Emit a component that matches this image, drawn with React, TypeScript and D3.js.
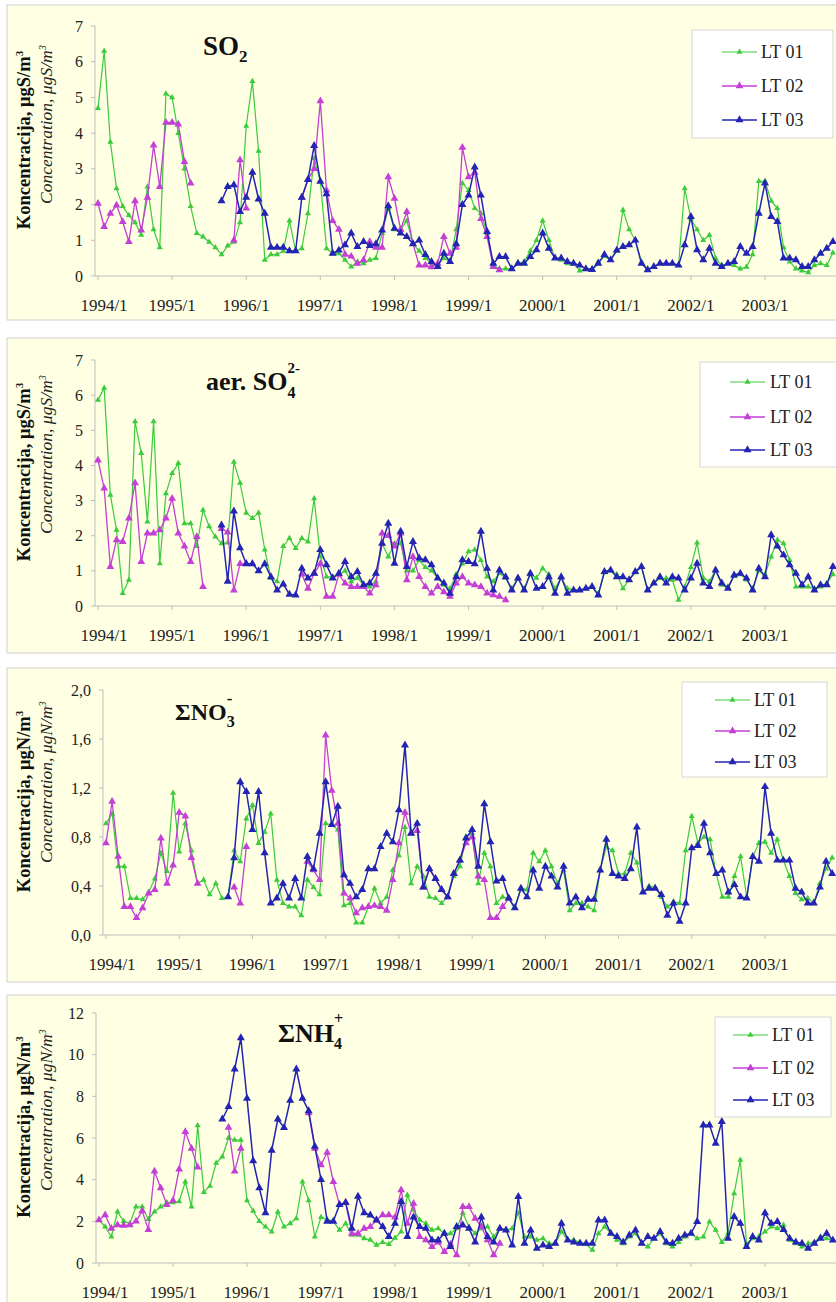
import React from "react";
import * as d3 from "d3";

type V = number | null;
const _ = null;

const YEAR_LABELS = ["1994/1", "1995/1", "1996/1", "1997/1", "1998/1", "1999/1", "2000/1", "2001/1", "2002/1", "2003/1"];
const SERIES_NAMES = ["LT 01", "LT 02", "LT 03"];

// ---------- SO2 ----------
const so2_LT01: V[] = [
  4.7, 6.3, 3.75, 2.45, 1.95, 1.7, 1.5, 1.15, 2.5, 1.3, 0.8, 5.1,
  5.0, 4.0, 3.0, 1.95, 1.2, 1.1, 0.95, 0.8, 0.6, 0.85, 0.95, 1.5,
  4.2, 5.45, 3.5, 0.45, 0.6, 0.6, 0.7, 1.55, 0.7, 0.77, 1.75, 3.3,
  2.65, 0.77, 0.63, 0.63, 0.45, 0.26, 0.4, 0.35, 0.45, 0.5, 1.2, 1.9,
  1.3, 1.3, 1.55, 0.9, 0.7, 0.5, 0.35, 0.3, 0.5, 0.4, 1.3, 2.6,
  2.4, 1.9, 1.75, 1.2, 0.3, 0.2, 0.2, 0.2, 0.35, 0.4, 0.7, 1.0,
  1.55, 1.0, 0.5, 0.45, 0.35, 0.35, 0.15, 0.2, 0.2, 0.4, 0.55, 0.45,
  0.7, 1.85, 1.3, 1.0, 0.4, 0.2, 0.25, 0.35, 0.35, 0.35, 0.3, 2.45,
  1.6, 1.3, 1.0, 1.15, 0.5, 0.3, 0.35, 0.3, 0.2, 0.25, 0.6, 2.65,
  2.65, 2.1, 1.9, 0.8, 0.4, 0.2, 0.15, 0.1, 0.3, 0.35, 0.3, 0.65,
];
const so2_LT02: V[] = [
  2.03, 1.38, 1.75, 1.98, 1.52, 0.96, 2.1, 1.28, 2.2, 3.66, 2.5, 4.3,
  4.3, 4.25, 3.2, 2.6, _, _, _, _, _, _, 1.0, 3.25,
  1.9, _, _, _, _, _, _, _, _, 2.2, 2.7, 3.0,
  4.9, 2.4, 1.55, 1.3, 0.6, 0.55, 0.35, 0.45, 0.96, 0.8, 0.8, 2.77,
  2.17, 1.3, 1.8, 0.9, 0.3, 0.3, 0.25, 0.35, 1.1, 0.63, 0.8, 3.6,
  2.77, 2.9, 1.6, 1.1, 0.26, 0.17, _, _, _, _, _, _,
  _, _, _, _, _, _, _, _, _, _, _, _,
  _, _, _, _, _, _, _, _, _, _, _, _,
  _, _, _, _, _, _, _, _, _, _, _, _,
  _, _, _, _, _, _, _, _, _, _, _, _,
];
const so2_LT03: V[] = [
  _, _, _, _, _, _, _, _, _, _, _, _,
  _, _, _, _, _, _, _, _, 2.1, 2.5, 2.55, 1.8,
  2.2, 2.9, 2.15, 1.75, 0.8, 0.8, 0.8, 0.7, 0.7, 2.2, 2.7, 3.65,
  2.65, 2.3, 0.63, 0.72, 0.87, 1.2, 0.82, 0.96, 0.85, 0.9, 1.28, 1.96,
  1.33, 1.2, 1.1, 0.9, 1.0, 0.6, 0.4, 0.26, 0.63, 0.4, 0.9, 2.0,
  2.26, 3.05, 2.26, 1.24, 0.35, 0.54, 0.54, 0.2, 0.35, 0.35, 0.54, 0.73,
  1.2, 0.77, 0.5, 0.5, 0.4, 0.35, 0.3, 0.2, 0.18, 0.35, 0.6, 0.45,
  0.72, 0.82, 0.87, 1.0, 0.35, 0.17, 0.26, 0.35, 0.35, 0.35, 0.3, 0.87,
  1.66, 0.73, 0.45, 0.77, 0.35, 0.26, 0.35, 0.4, 0.82, 0.63, 0.82, 1.75,
  2.6, 1.66, 1.52, 0.5, 0.5, 0.45, 0.26, 0.26, 0.45, 0.63, 0.77, 0.96,
];

// ---------- aer. SO4 ----------
const so4_LT01: V[] = [
  5.86, 6.2, 3.16, 2.16, 0.36, 0.74, 5.25, 4.35, 2.4, 5.25, 1.21, 3.2,
  3.78, 4.06, 2.35, 2.35, 1.7, 2.73, 2.26, 1.97, 1.78, 1.8, 4.1, 3.5,
  2.65, 2.5, 2.65, 1.6, 0.8, 0.7, 1.7, 1.93, 1.64, 1.93, 1.83, 3.06,
  1.4, 0.83, 0.83, 0.9, 1.0, 0.7, 0.8, 0.6, 0.55, 0.7, 1.78, 1.4,
  1.78, 1.78, 1.0, 1.0, 1.3, 1.1, 1.0, 0.8, 0.6, 0.5, 0.9, 1.2,
  1.55, 1.6, 1.3, 0.83, 0.7, 0.93, 0.8, 0.5, 0.8, 0.5, 0.9, 0.8,
  1.07, 0.9, 0.5, 0.8, 0.5, 0.45, 0.45, 0.5, 0.55, 0.35, 0.95, 1.0,
  0.9, 0.5, 0.75, 0.95, 1.1, 0.45, 0.65, 0.79, 0.79, 0.74, 0.17, 0.55,
  1.1, 1.8, 0.8, 0.7, 1.02, 0.6, 0.55, 0.85, 0.9, 0.75, 0.5, 1.0,
  0.9, 1.4, 1.88, 1.78, 1.3, 0.55, 0.55, 0.55, 0.5, 0.55, 0.65, 0.9,
];
const so4_LT02: V[] = [
  4.15, 3.35, 1.12, 1.88, 1.83, 2.5, 3.5, 1.26, 2.07, 2.07, 2.16, 2.5,
  3.06, 2.07, 1.7, 1.26, 1.97, 0.55, _, _, 2.2, 2.1, 0.45, 1.2,
  1.2, 1.2, _, _, _, _, _, _, _, 0.9, 0.5, 0.93,
  1.2, 0.27, 0.27, 0.9, 0.65, 0.55, 0.55, 0.55, 0.36, 0.6, 2.07, 2.0,
  1.7, 2.07, 0.74, 1.4, 0.83, 0.55, 0.36, 0.55, 0.4, 0.27, 0.65, 0.83,
  0.65, 0.6, 0.55, 0.36, 0.31, 0.27, 0.17, _, _, _, _, _,
  _, _, _, _, _, _, _, _, _, _, _, _,
  _, _, _, _, _, _, _, _, _, _, _, _,
  _, _, _, _, _, _, _, _, _, _, _, _,
  _, _, _, _, _, _, _, _, _, _, _, _,
];
const so4_LT03: V[] = [
  _, _, _, _, _, _, _, _, _, _, _, _,
  _, _, _, _, _, _, _, _, 2.3, 0.7, 2.7, 1.65,
  1.2, 1.2, 1.0, 1.2, 0.83, 0.45, 0.62, 0.33, 0.31, 1.07, 0.79, 0.93,
  1.6, 1.17, 0.79, 0.93, 1.26, 0.83, 0.98, 0.6, 0.65, 0.93, 1.78, 2.35,
  1.21, 2.12, 1.12, 1.83, 1.36, 1.31, 1.17, 0.79, 0.65, 0.36, 0.83, 1.31,
  1.26, 1.2, 2.12, 1.07, 0.45, 1.02, 0.83, 0.45, 0.79, 0.45, 0.93, 0.5,
  0.55, 0.83, 0.36, 0.83, 0.36, 0.45, 0.45, 0.5, 0.55, 0.31, 0.98, 1.02,
  0.83, 0.83, 0.74, 0.98, 1.12, 0.45, 0.65, 0.83, 0.65, 0.83, 0.79, 0.45,
  0.79, 1.21, 0.65, 0.55, 1.02, 0.65, 0.5, 0.88, 0.93, 0.79, 0.45, 1.07,
  0.83, 2.02, 1.7, 1.45, 1.17, 0.93, 0.6, 0.83, 0.45, 0.6, 0.6, 1.12,
];

// ---------- Sum NO3 ----------
const no3_LT01: V[] = [
  0.91, 0.99, 0.56, 0.56, 0.3, 0.3, 0.29, 0.35, 0.46, 0.67, 0.52, 1.16,
  0.68, 0.91, 0.69, 0.42, 0.45, 0.33, 0.42, 0.3, 0.31, 0.69, 0.6, 0.95,
  1.06, 0.75, 0.84, 0.99, 0.45, 0.26, 0.23, 0.23, 0.16, 0.45, 0.39, 0.33,
  0.91, 0.9, 0.86, 0.24, 0.26, 0.1, 0.1, 0.23, 0.38, 0.26, 0.31, 0.53,
  0.65, 0.88, 0.42, 0.56, 0.48, 0.31, 0.3, 0.26, 0.31, 0.48, 0.56, 0.8,
  0.83, 0.42, 0.67, 0.56, 0.26, 0.31, 0.3, 0.23, 0.38, 0.37, 0.67, 0.6,
  0.69, 0.56, 0.42, 0.53, 0.2, 0.26, 0.26, 0.23, 0.2, 0.53, 0.72, 0.69,
  0.5, 0.5, 0.67, 0.59, 0.35, 0.4, 0.39, 0.31, 0.23, 0.27, 0.26, 0.69,
  0.97, 0.75, 0.8, 0.78, 0.5, 0.31, 0.31, 0.48, 0.64, 0.31, 0.64, 0.75,
  0.76, 0.67, 0.78, 0.61, 0.48, 0.34, 0.29, 0.3, 0.26, 0.42, 0.54, 0.63,
];
const no3_LT02: V[] = [
  0.75, 1.09, 0.64, 0.23, 0.23, 0.14, 0.22, 0.34, 0.37, 0.79, 0.42, 0.57,
  1.0, 0.97, 0.63, 0.42, _, _, _, _, _, 0.39, 0.26, 0.72,
  _, _, _, _, _, _, _, _, _, 0.6, 0.53, 0.45,
  1.63, 1.18, 0.91, 0.34, 0.3, 0.18, 0.22, 0.23, 0.24, 0.23, 0.2, 0.45,
  0.75, 1.0, 0.83, 0.85, 0.39, 0.54, 0.46, 0.37, 0.31, 0.5, 0.61, 0.75,
  0.8, 0.48, 0.45, 0.14, 0.14, 0.23, 0.3, _, _, _, _, _,
  _, _, _, _, _, _, _, _, _, _, _, _,
  _, _, _, _, _, _, _, _, _, _, _, _,
  _, _, _, _, _, _, _, _, _, _, _, _,
  _, _, _, _, _, _, _, _, _, _, _, _,
];
const no3_LT03: V[] = [
  _, _, _, _, _, _, _, _, _, _, _, _,
  _, _, _, _, _, _, _, _, 0.31, 0.63, 1.25, 1.17,
  0.86, 1.17, 0.67, 0.26, 0.3, 0.42, 0.3, 0.46, 0.3, 0.64, 0.54, 0.83,
  1.25, 0.9, 1.05, 0.49, 0.42, 0.31, 0.37, 0.54, 0.54, 0.72, 0.83, 0.76,
  1.02, 1.55, 0.83, 0.91, 0.39, 0.54, 0.46, 0.37, 0.31, 0.5, 0.61, 0.79,
  0.86, 0.56, 1.07, 0.76, 0.44, 0.46, 0.3, 0.22, 0.38, 0.31, 0.53, 0.38,
  0.56, 0.48, 0.39, 0.56, 0.26, 0.31, 0.22, 0.29, 0.29, 0.53, 0.78, 0.5,
  0.48, 0.46, 0.54, 0.88, 0.35, 0.38, 0.38, 0.33, 0.16, 0.26, 0.11, 0.26,
  0.71, 0.73, 0.91, 0.67, 0.5, 0.53, 0.35, 0.41, 0.31, 0.3, 0.64, 0.6,
  1.21, 0.83, 0.61, 0.61, 0.61, 0.38, 0.35, 0.26, 0.26, 0.39, 0.6, 0.5,
];

// ---------- Sum NH4 ----------
const nh4_LT01: V[] = [
  2.06, 1.74, 1.26, 2.46, 2.0, 1.9, 2.7, 2.7, 2.1, 2.46, 2.7, 2.9,
  2.9, 2.95, 3.9, 2.7, 6.6, 3.4, 3.7, 4.8, 5.1, 6.0, 5.9, 5.9,
  3.0, 2.5, 2.0, 1.74, 1.5, 2.45, 1.74, 1.9, 2.14, 3.9, 3.0, 1.26,
  2.2, 2.1, 2.0, 1.58, 1.9, 1.34, 1.34, 1.18, 1.1, 0.86, 1.0, 0.9,
  1.2, 1.5, 3.26, 2.54, 2.06, 1.9, 1.58, 1.66, 1.42, 1.42, 1.66, 2.4,
  1.74, 1.42, 1.66, 1.74, 1.26, 1.66, 1.58, 1.66, 2.4, 1.26, 1.26, 1.1,
  1.18, 0.94, 0.94, 1.5, 1.1, 1.1, 1.0, 0.9, 0.62, 1.42, 1.74, 1.42,
  1.1, 0.94, 1.26, 1.42, 0.94, 0.78, 1.18, 1.42, 0.94, 0.78, 1.0, 1.26,
  1.42, 1.18, 1.26, 1.98, 1.58, 1.0, 1.42, 3.34, 4.94, 0.94, 1.18, 1.26,
  1.5, 1.74, 1.66, 1.82, 1.1, 0.94, 0.78, 0.94, 1.0, 1.26, 1.18, 1.1,
];
const nh4_LT02: V[] = [
  2.06, 2.3, 1.66, 1.82, 1.8, 1.82, 2.0, 2.5, 1.6, 4.4, 3.6, 2.8,
  3.0, 4.5, 6.3, 5.5, 4.6, _, _, _, _, 6.5, 4.4, 5.5,
  _, _, _, _, _, _, _, _, _, _, 7.2, 5.5,
  4.7, 5.3, 3.9, 2.8, 2.9, 1.42, 1.42, 1.66, 1.74, 2.06, 2.3, 2.3,
  2.2, 3.5, 1.9, 2.86, 1.26, 1.1, 0.78, 1.0, 0.54, 0.9, 0.38, 2.7,
  2.7, 2.14, 1.74, 1.1, 0.38, 0.94, _, _, _, _, _, _,
  _, _, _, _, _, _, _, _, _, _, _, _,
  _, _, _, _, _, _, _, _, _, _, _, _,
  _, _, _, _, _, _, _, _, _, _, _, _,
  _, _, _, _, _, _, _, _, _, _, _, _,
];
const nh4_LT03: V[] = [
  _, _, _, _, _, _, _, _, _, _, _, _,
  _, _, _, _, _, _, _, _, 6.9, 7.5, 9.3, 10.8,
  7.9, 4.9, 3.6, 2.4, 5.4, 6.9, 6.5, 7.8, 9.3, 7.9, 7.3, 5.6,
  4.0, 2.0, 2.0, 2.8, 2.9, 1.66, 3.2, 2.4, 2.3, 2.06, 1.74, 1.26,
  1.9, 2.94, 1.26, 2.2, 1.74, 1.66, 1.1, 1.1, 1.42, 0.78, 1.74, 1.82,
  1.66, 1.0, 2.2, 1.26, 1.0, 1.66, 1.58, 0.86, 3.18, 0.94, 1.58, 0.7,
  0.86, 0.78, 0.94, 1.9, 1.1, 1.0, 0.94, 0.94, 0.94, 2.06, 2.06, 1.42,
  1.26, 1.0, 1.34, 1.58, 0.94, 1.26, 1.18, 1.5, 1.0, 0.94, 1.18, 1.34,
  1.42, 1.98, 6.62, 6.62, 5.74, 6.78, 1.18, 2.22, 1.9, 0.78, 1.26, 1.1,
  2.4, 1.9, 1.98, 1.6, 1.18, 1.0, 0.94, 0.7, 0.94, 1.18, 1.42, 1.1,
];

const SO2_TICKS = [0, 1, 2, 3, 4, 5, 6, 7];
const SO4_TICKS = [0, 1, 2, 3, 4, 5, 6, 7];
const NO3_TICKS = [0, 0.4, 0.8, 1.2, 1.6, 2.0];
const NH4_TICKS = [0, 2, 4, 6, 8, 10, 12];

// ---------- layout / style ----------
const FONT = "'Liberation Serif', 'Times New Roman', Times, serif";
const BG = "#FFFFE4";
const COLORS = ["#3CCB3C", "#C43FD6", "#2424B4"];
const WIDTHS = [1.2, 1.3, 1.5];
const SIZES = [16, 26, 28];
const X_LAST_TICK = 765; // pixel position of 2003/1

const PANELS = [
  {
    frame: [5, 320], x0: 98, yTop: 26, yBottom: 276, yMax: 7, ticks: SO2_TICKS, comma: false, unit: "S",
    series: [so2_LT01, so2_LT02, so2_LT03],
    legend: { x: 692, y: 30, w: 141, h: 108, rows: [52, 86, 120], lineX: 722, textX: 761 },
  },
  {
    frame: [338, 653], x0: 98, yTop: 360, yBottom: 606, yMax: 7, ticks: SO4_TICKS, comma: false, unit: "S",
    series: [so4_LT01, so4_LT02, so4_LT03],
    legend: { x: 700, y: 362, w: 140, h: 105, rows: [382, 417, 450], lineX: 730, textX: 770 },
  },
  {
    frame: [668, 982], x0: 106, yTop: 690, yBottom: 935, yMax: 2, ticks: NO3_TICKS, comma: true, unit: "N",
    series: [no3_LT01, no3_LT02, no3_LT03],
    legend: { x: 682, y: 682, w: 145, h: 95, rows: [700, 731, 762], lineX: 715, textX: 754 },
  },
  {
    frame: [995, 1320], x0: 99, yTop: 1013, yBottom: 1263, yMax: 12, ticks: NH4_TICKS, comma: false, unit: "N",
    series: [nh4_LT01, nh4_LT02, nh4_LT03],
    legend: { x: 715, y: 1017, w: 116, h: 100, rows: [1035, 1068, 1100], lineX: 733, textX: 772 },
  },
];

function Title({ idx }: { idx: number }) {
  const common = { fontWeight: "bold" as const, fill: "#111" };
  if (idx === 0)
    return (
      <text x={203} y={55} fontSize={27} {...common}>
        SO<tspan fontSize={17} dy={7}>2</tspan>
      </text>
    );
  if (idx === 1)
    return (
      <text x={206} y={390} fontSize={26} {...common}>
        aer. SO<tspan fontSize={16} dy={8}>4</tspan>
        <tspan fontSize={15} dx={-8} dy={-25}>2-</tspan>
      </text>
    );
  if (idx === 2)
    return (
      <text x={175} y={720} fontSize={24} {...common}>
        ΣNO<tspan fontSize={16} dy={7}>3</tspan>
        <tspan fontSize={17} dx={-8} dy={-23}>-</tspan>
      </text>
    );
  return (
    <text x={278} y={1042} fontSize={26} {...common}>
      ΣNH<tspan fontSize={16} dy={7}>4</tspan>
      <tspan fontSize={16} dx={-8} dy={-25}>+</tspan>
    </text>
  );
}

function Panel({ cfg, idx }: { cfg: any; idx: number }) {
  const { frame, x0, yTop, yBottom, yMax, ticks, comma, unit, series, legend } = cfg;
  const x = d3.scaleLinear().domain([0, 108]).range([x0, X_LAST_TICK]);
  const y = d3.scaleLinear().domain([0, yMax]).range([yBottom, yTop]);
  const axisX = x0 - 3;
  const fmt = (v: number) => (comma ? d3.format(".1f")(v).replace(".", ",") : d3.format("d")(v));
  const line = d3
    .line<V>()
    .defined((d) => d != null)
    .x((_d, i) => x(i))
    .y((d) => y(d as number));
  const symbols = SIZES.map((s) => d3.symbol(d3.symbolTriangle, s)() as string);
  const mid = (yTop + yBottom) / 2;
  const axisColor = "#BEBEBE";

  return (
    <g>
      <rect x={7} y={frame[0]} width={850} height={frame[1] - frame[0]} fill={BG} stroke="#CFCFCF" />
      {/* axes */}
      <line x1={axisX} x2={axisX} y1={yTop} y2={yBottom} stroke={axisColor} />
      <line x1={axisX} x2={845} y1={yBottom} y2={yBottom} stroke={axisColor} />
      {ticks.map((t: number) => (
        <g key={t}>
          <line x1={axisX - 4} x2={axisX} y1={y(t)} y2={y(t)} stroke={axisColor} />
          <text x={axisX - 12} y={y(t)} dy="0.35em" textAnchor="end" fontSize={16} fill="#222">
            {fmt(t)}
          </text>
        </g>
      ))}
      {YEAR_LABELS.map((lab, k) => {
        const m = k * 12;
        return (
          <g key={lab}>
            <line x1={x(m)} x2={x(m)} y1={yBottom} y2={yBottom + 4} stroke={axisColor} />
            <text x={x(m) + (k === 0 ? 6 : 0)} y={yBottom + 35} textAnchor="middle" fontSize={17} fill="#222">
              {lab}
            </text>
          </g>
        );
      })}
      {/* axis titles */}
      <text transform={`translate(30,${mid - 11}) rotate(-90)`} textAnchor="middle" fontSize={18.5} fontWeight="bold" fill="#111">
        Koncentracija, μg{unit}/m<tspan fontSize={11} dy={-7}>3</tspan>
      </text>
      <text transform={`translate(52,${yBottom - 72}) rotate(-90)`} textAnchor="start" fontSize={17.5} fontStyle="italic" fill="#222">
        Concentration, μg{unit}/m<tspan fontSize={10} dy={-6}>3</tspan>
      </text>
      <Title idx={idx} />
      {/* series */}
      {series.map((data: V[], s: number) => (
        <g key={s}>
          <path d={line(data) || ""} fill="none" stroke={COLORS[s]} strokeWidth={WIDTHS[s]} strokeLinejoin="round" />
          {data.map((v, i) =>
            v == null ? null : (
              <path key={i} d={symbols[s]} transform={`translate(${x(i)},${y(v)})`} fill={COLORS[s]} />
            )
          )}
        </g>
      ))}
      {/* legend */}
      <rect x={legend.x} y={legend.y} width={legend.w} height={legend.h} fill="#FFFFFF" stroke="#D6D6D6" />
      {SERIES_NAMES.map((n, s) => (
        <g key={n}>
          <line x1={legend.lineX} x2={legend.lineX + 35} y1={legend.rows[s]} y2={legend.rows[s]} stroke={COLORS[s]} strokeWidth={WIDTHS[s]} />
          <path d={symbols[s]} transform={`translate(${legend.lineX + 17.5},${legend.rows[s]})`} fill={COLORS[s]} />
          <text x={legend.textX} y={legend.rows[s]} dy="0.35em" fontSize={18} fill="#222">
            {n}
          </text>
        </g>
      ))}
    </g>
  );
}

export default function App() {
  return (
    <svg
      width={836}
      height={1302}
      viewBox="0 0 836 1302"
      style={{ position: "absolute", left: 0, top: 0, background: "#FFFFFF", overflow: "hidden" }}
      fontFamily={FONT}
    >
      {PANELS.map((p, k) => (
        <Panel key={k} cfg={p} idx={k} />
      ))}
    </svg>
  );
}
